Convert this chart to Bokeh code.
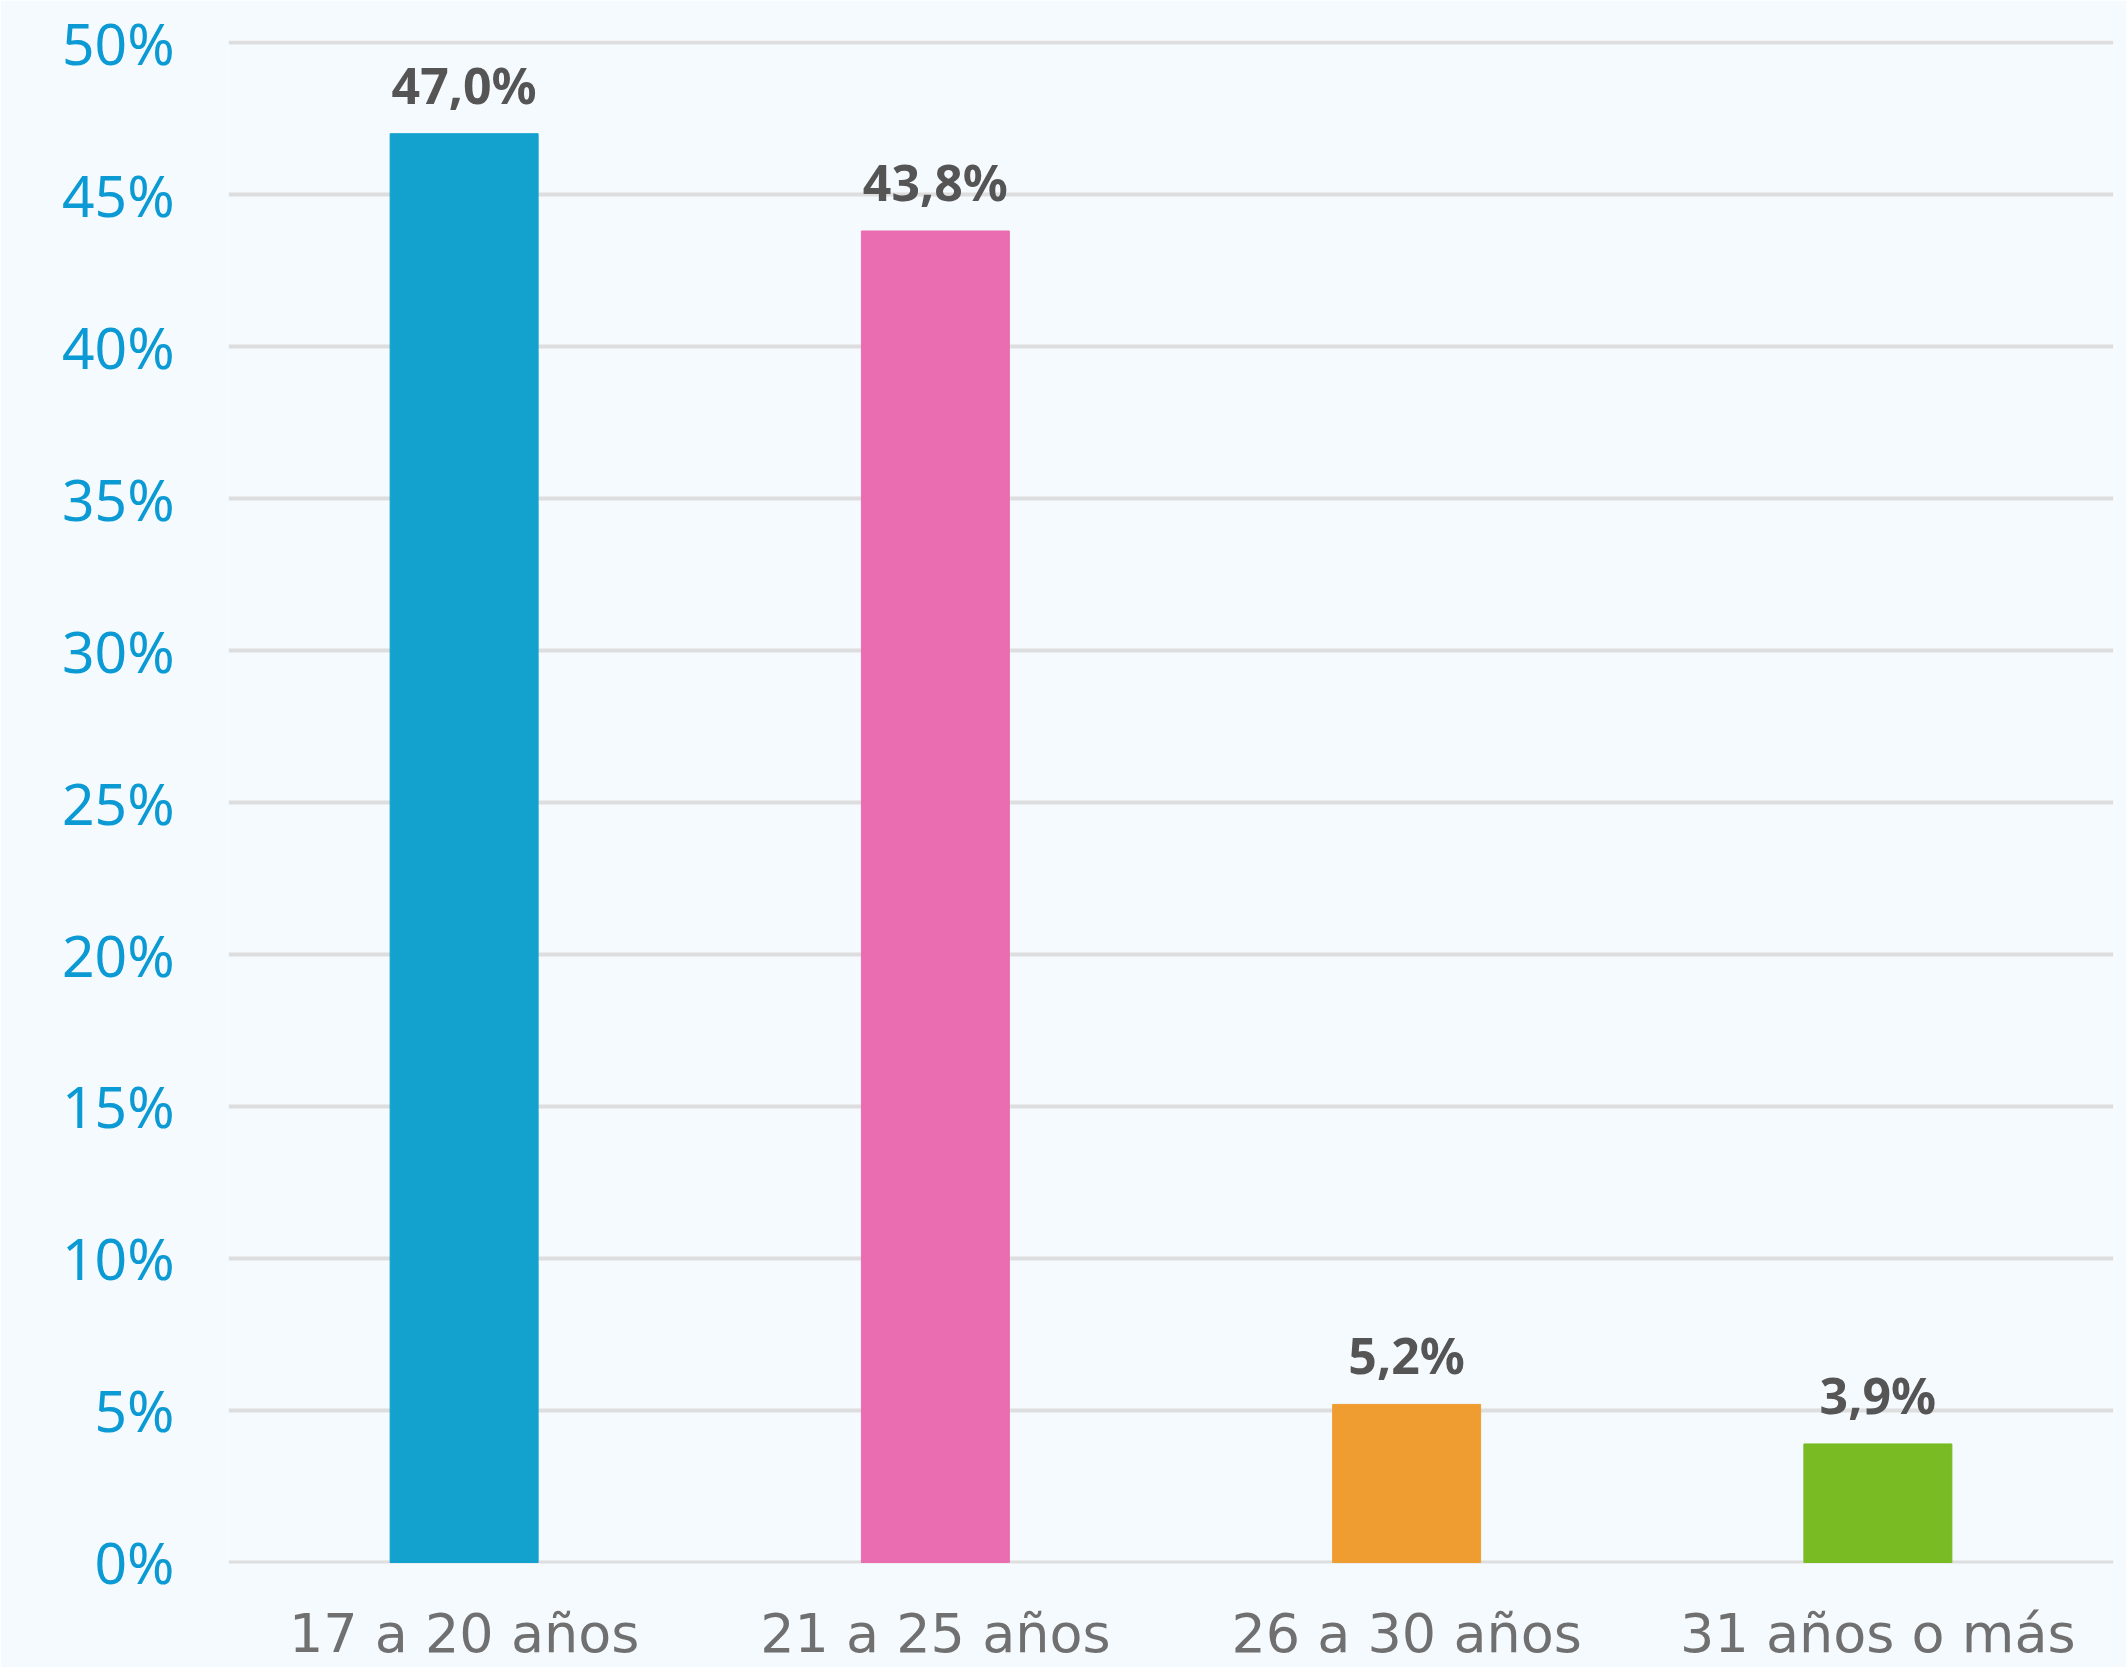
from bokeh.plotting import figure
from bokeh.models import ColumnDataSource, Range1d, FactorRange, FixedTicker, PrintfTickFormatter
from bokeh.core.properties import value
from bokeh.embed import file_html
from bokeh.resources import INLINE

categories = ["17 a 20 años", "21 a 25 años", "26 a 30 años", "31 años o más"]
percentages = [47.0, 43.8, 5.2, 3.9]
bar_colors = ["#13a1ce", "#e96db0", "#ef9d31", "#78bb22"]
y_ticks = [0, 5, 10, 15, 20, 25, 30, 35, 40, 45, 50]

labels = [f"{v:.1f}".replace(".", ",") + "%" for v in percentages]

BG = "#f5faff"
FONT = "Noto Sans"
XFONT = "DejaVu Sans"

src = ColumnDataSource(dict(cat=categories, val=percentages, col=bar_colors, lab=labels))

p = figure(
    x_range=FactorRange(*categories, range_padding=0),
    y_range=Range1d(-0.033, 50.066),
    width=2126, height=1667,
    min_border_left=228, min_border_right=13,
    min_border_top=40, min_border_bottom=101,
    output_backend="svg", toolbar_location=None,
    background_fill_color=BG, border_fill_color=BG,
)
p.outline_line_color = None

p.vbar(x="cat", top="val", bottom=0, width=0.314, color="col", source=src)
p.text(x="cat", y="val", text="lab", source=src, y_offset=-49,
       text_align="center", text_baseline="alphabetic",
       text_font=value(FONT), text_font_style="bold",
       text_font_size="50px", text_color="#555555")

p.xgrid.grid_line_color = None
p.ygrid.grid_line_color = "#dedede"
p.ygrid.grid_line_width = 4

p.yaxis.ticker = FixedTicker(ticks=y_ticks)
p.yaxis.formatter = PrintfTickFormatter(format="%d%%")
for ax in (p.xaxis[0], p.yaxis[0]):
    ax.axis_line_color = None
    ax.major_tick_line_color = None
    ax.minor_tick_line_color = None
    ax.major_tick_out = 0
    ax.major_tick_in = 0

p.yaxis.major_label_text_font = FONT
p.yaxis.major_label_text_font_size = "57px"
p.yaxis.major_label_text_color = "#0b9ad3"
p.yaxis.major_label_standoff = 54

p.xaxis.major_label_text_font = XFONT
p.xaxis.major_label_text_font_size = "54px"
p.xaxis.major_label_text_color = "#707070"
p.xaxis.major_label_standoff = 38

html = file_html(p, INLINE)
html = html.replace("<body>", f'<body style="background:{BG}">', 1)
open("out.html", "w").write(html)
